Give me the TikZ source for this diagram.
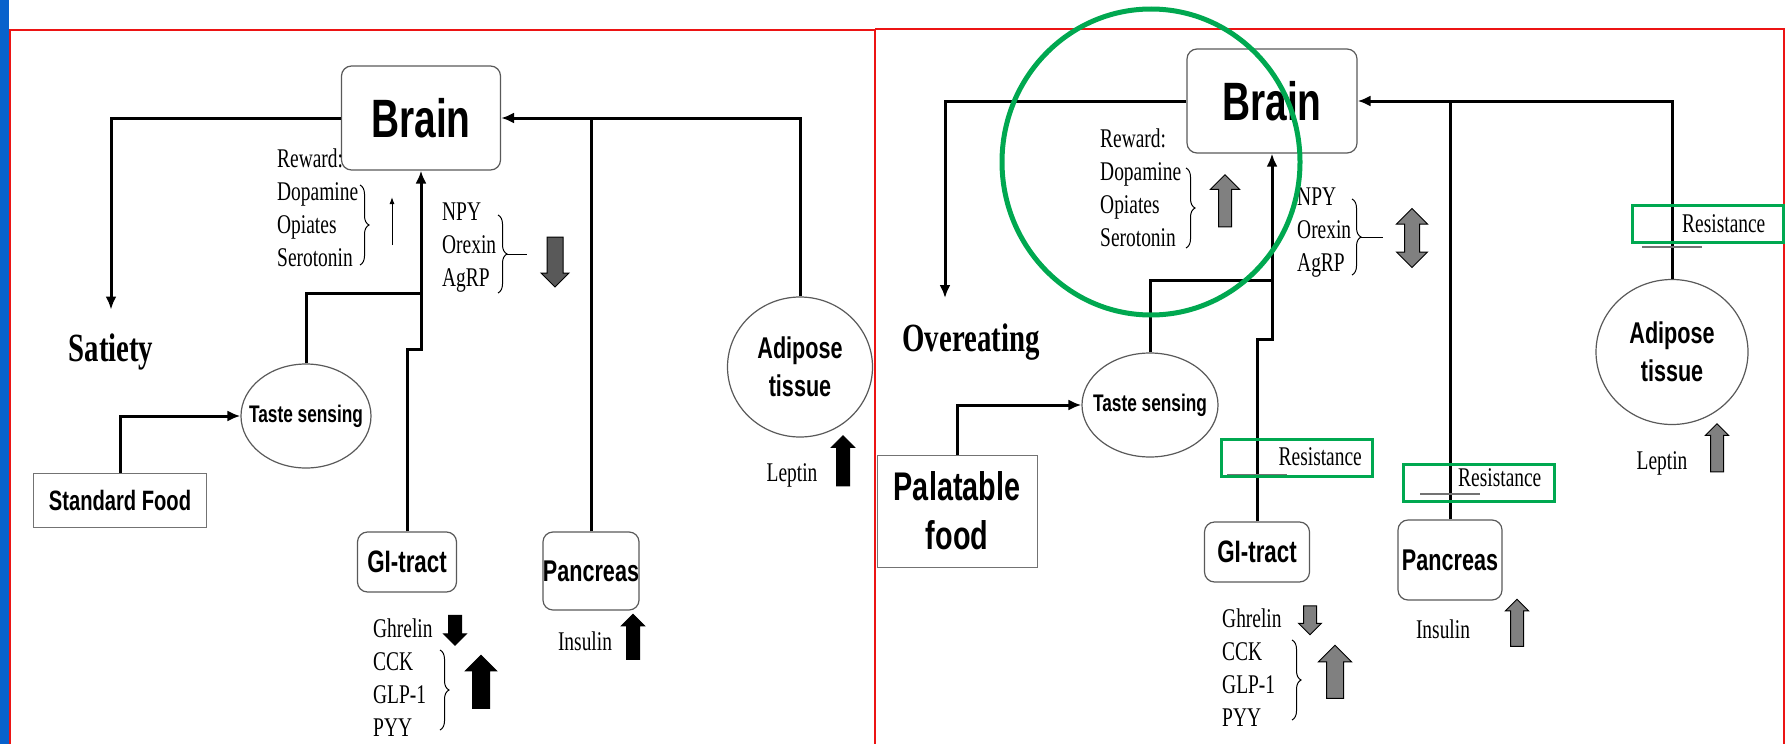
\documentclass[tikz,border=0pt]{standalone}
\usepackage{fontspec}
\usetikzlibrary{shapes.geometric,shapes.arrows,decorations.pathreplacing,arrows.meta}
\newfontfamily\organfont{Liberation Sans}[FakeStretch=0.72]
\newfontfamily\notefont{Liberation Serif}[FakeStretch=0.72]
\definecolor{slideblue}{RGB}{8,98,204}
\definecolor{panelred}{RGB}{236,20,20}
\definecolor{markgreen}{RGB}{0,168,80}
\begin{document}
\begin{tikzpicture}[x=1pt, y=-1pt, >={Latex[length=13pt,width=11pt]},
  organ/.style={draw=black!65, line width=1.2pt, rounded corners=10pt, inner sep=0pt, font=\organfont\bfseries},
  blob/.style={ellipse, draw=black!65, line width=1.2pt, inner sep=0pt},
  blobtext/.style={inner sep=0pt, align=center, font=\organfont\bfseries},
  food/.style={draw=black!55, line width=1pt, inner sep=0pt, align=center, font=\organfont\bfseries},
  outcome/.style={font=\notefont\bfseries\fontsize{40}{40}\selectfont},
  hormones/.style={anchor=west, inner sep=0pt, align=left, font=\notefont\fontsize{27}{33}\selectfont},
  single/.style={inner sep=0pt, font=\notefont\fontsize{27}{33}\selectfont},
  link/.style={line width=3pt},
  fat/.style={single arrow, draw=black, line width=1pt, inner xsep=0pt, inner ysep=6pt, single arrow head extend=5pt, minimum height=#1},
  resbox/.style={draw=markgreen, line width=3.5pt, minimum width=151pt, minimum height=37pt, inner sep=0pt},
  curly/.style={decorate, decoration={brace, amplitude=9pt}, line width=1pt},
  resbar/.style={line width=1.6pt, black!55}]

\useasboundingbox (0,0) rectangle (1790,744);
\fill[slideblue] (0,0) rectangle (9,744);
\draw[panelred, line width=2pt] (10,744) -- (10,30) -- (875,30) -- (875,744);
\draw[panelred, line width=2pt] (875,29) -- (1784,29) -- (1784,744);

\node[organ, minimum width=159pt, minimum height=104pt, font=\organfont\bfseries\fontsize{54}{54}\selectfont] (brainL) at (421,118) {Brain};
\node[outcome, inner ysep=24pt] (satiety) at (111,352) {Satiety};
\node[blob, minimum width=130pt, minimum height=104pt] (tasteL) at (306,416) {};
\node[blobtext, font=\organfont\bfseries\fontsize{24}{24}\selectfont] at (tasteL) {Taste sensing};
\node[food, minimum width=173pt, minimum height=54pt, font=\organfont\bfseries\fontsize{28}{28}\selectfont] (foodL) at (120,500) {Standard Food};
\node[organ, minimum width=99pt, minimum height=60pt, font=\organfont\bfseries\fontsize{31}{31}\selectfont] (giL) at (407,562) {GI-tract};
\node[organ, minimum width=96pt, minimum height=78pt, font=\organfont\bfseries\fontsize{30}{30}\selectfont] (pancL) at (591,571) {Pancreas};
\node[blob, minimum width=145pt, minimum height=140pt] (adiposeL) at (800,367) {};
\node[blobtext, font=\organfont\bfseries\fontsize{30}{38}\selectfont] at (adiposeL) {Adipose\\tissue};

\node[hormones] (rewardL) at (277,208) {Reward:\\Dopamine\\Opiates\\Serotonin};
\node[hormones] (npyL) at (442,248) {NPY\\Orexin\\AgRP};
\node[hormones] (gutL) at (373,678) {Ghrelin\\CCK\\GLP-1\\PYY};
\node[single] (insulinL) at (585,641) {Insulin};
\node[single] (leptinL) at (792,475) {Leptin};

\draw[curly] (360,185) -- (360,265);
\draw[curly] (498,215) -- (498,293);
\draw[line width=1pt] (507,254) -- (527,254);
\draw[curly] (440,650) -- (440,730);

\coordinate (thinlow) at (392,245);
\coordinate (thinhigh) at (392,197);
\draw[line width=1pt, -{Latex[length=7pt,width=5pt]}] (thinlow) -- (thinhigh);
\node[fat=50pt, fill=black!65, rotate=-90, inner ysep=7.5pt, single arrow head extend=6pt] (npydownL) at (555,258) {};
\node[fat=30pt, fill=black, rotate=-90] (ghrelindownL) at (455,627) {};
\node[fat=53pt, fill=black, rotate=90, inner ysep=8pt, single arrow head extend=7pt] (gutupL) at (481,686) {};
\node[fat=45pt, fill=black, rotate=90] (insulinupL) at (633,640) {};
\node[fat=50pt, fill=black, rotate=90] (leptinupL) at (843,464) {};

\draw[link,->] (brainL.west) -| (satiety.north);
\draw[link,->] (adiposeL.north) |- (brainL.east);
\draw[link] (pancL.north) -- (pancL.north |- brainL.east);
\draw[link,->] (foodL.north) |- (tasteL.west);
\draw[link,->] (giL.north) -- ++(0,-182) -| (brainL.south);
\draw[link] (tasteL.north) |- (brainL.south |- 0,293);

\node[organ, minimum width=170pt, minimum height=104pt, font=\organfont\bfseries\fontsize{54}{54}\selectfont] (brainR) at (1272,101) {Brain};
\node[outcome] (overeat) at (971,342) {Overeating};
\coordinate (overtip) at (945,298);
\node[blob, minimum width=136pt, minimum height=104pt] (tasteR) at (1150,405) {};
\node[blobtext, font=\organfont\bfseries\fontsize{24}{24}\selectfont] at (tasteR) {Taste sensing};
\node[food, minimum width=160pt, minimum height=112pt, font=\organfont\bfseries\fontsize{40}{49}\selectfont] (foodR) at (957,511) {Palatable\\food};
\node[organ, minimum width=105pt, minimum height=60pt, font=\organfont\bfseries\fontsize{31}{31}\selectfont] (giR) at (1257,552) {GI-tract};
\node[organ, minimum width=104pt, minimum height=80pt, font=\organfont\bfseries\fontsize{30}{30}\selectfont] (pancR) at (1450,560) {Pancreas};
\node[blob, minimum width=152pt, minimum height=145pt] (adiposeR) at (1672,352) {};
\node[blobtext, font=\organfont\bfseries\fontsize{30}{38}\selectfont] at (adiposeR) {Adipose\\tissue};

\node[hormones] (rewardR) at (1100,188) {Reward:\\Dopamine\\Opiates\\Serotonin};
\node[hormones] (npyR) at (1297,233) {NPY\\Orexin\\AgRP};
\node[hormones] (gutR) at (1222,668) {Ghrelin\\CCK\\GLP-1\\PYY};
\node[single] (insulinR) at (1443,629) {Insulin};
\node[single] (leptinR) at (1662,463) {Leptin};

\draw[curly] (1186,168) -- (1186,248);
\draw[curly] (1352,199) -- (1352,275);
\draw[line width=1pt] (1361,237) -- (1383,237);
\draw[curly] (1292,640) -- (1292,720);

\node[fat=52pt, fill=black!50, rotate=90, single arrow head extend=8pt] (rewardupR) at (1225,204) {};
\node[double arrow, draw=black, line width=1pt, fill=black!50, rotate=90, inner xsep=0pt, inner ysep=7pt, double arrow head extend=8pt, minimum height=59pt] (npybothR) at (1412,238) {};
\node[fat=29pt, fill=black!50, rotate=-90] (ghrelindownR) at (1310,617) {};
\node[fat=53pt, fill=black!50, rotate=90, inner ysep=8pt, single arrow head extend=8pt] (gutupR) at (1335,676) {};
\node[fat=47pt, fill=black!50, rotate=90] (insulinupR) at (1517,626) {};
\node[fat=48pt, fill=black!50, rotate=90] (leptinupR) at (1717,451) {};

\draw[link,->] (brainR.west) -| (overtip);
\draw[link,->] (adiposeR.north) |- (brainR.east);
\draw[link] (pancR.north) -- (pancR.north |- brainR.east);
\draw[link,->] (foodR.north) |- (tasteR.west);
\draw[link,->] (giR.north) -- ++(0,-182) -| (brainR.south);
\draw[link] (tasteR.north) |- (brainR.south |- 0,280);

\draw[resbar] (giR.north |- 0,475) ++(-30,0) -- ++(60,0);
\draw[resbar] (pancR.north |- 0,494) ++(-30,0) -- ++(60,0);
\draw[resbar] (adiposeR.north |- 0,247) ++(-30,0) -- ++(60,0);
\node[resbox] (resgi) at (1297,458) {};
\node[single, anchor=east] at (1362,457) {Resistance};
\node[resbox] (respanc) at (1479,483) {};
\node[single, anchor=west] at (1458,478) {Resistance};
\node[resbox] (resadipose) at (1708,224) {};
\node[single, anchor=west] at (1682,224) {Resistance};

\draw[markgreen, line width=5pt] (1151,162) ellipse [x radius=149, y radius=153];
\end{tikzpicture}
\end{document}
